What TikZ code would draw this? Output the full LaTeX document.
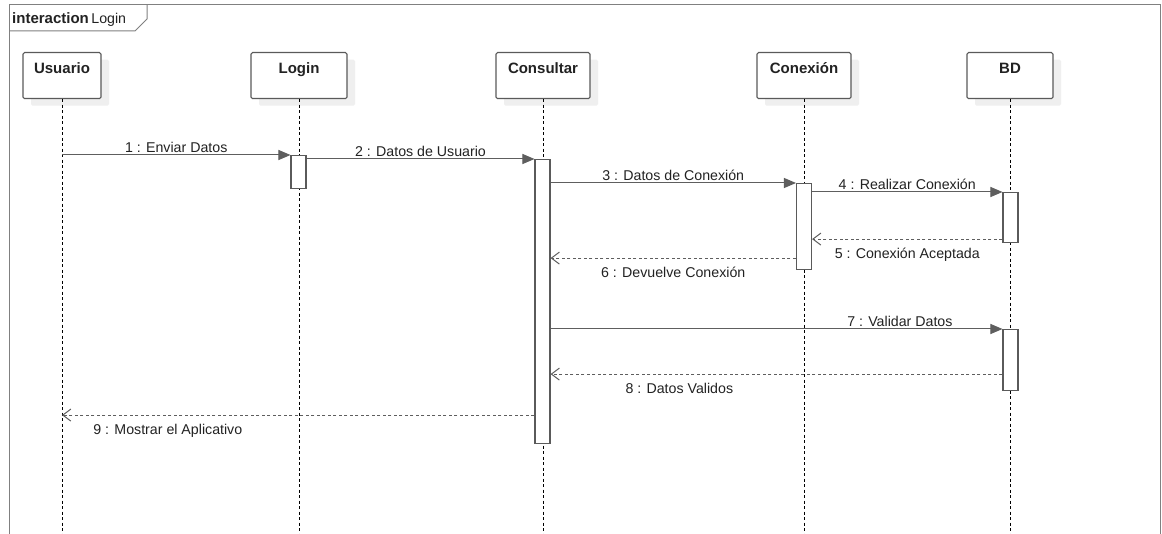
\documentclass[tikz,border=0pt]{standalone}
\usepackage{fontspec}
\setmainfont{Liberation Sans}
\usetikzlibrary{arrows.meta,shadows}

\definecolor{framegray}{HTML}{808080}
\definecolor{boxgray}{HTML}{5A5A5A}
\definecolor{msggray}{HTML}{5E5E5E}
\definecolor{txtgray}{HTML}{222222}
\definecolor{shadowgray}{HTML}{EFEFEF}

\tikzset{
  frame/.style={draw=framegray, line width=1pt},
  head/.style={rectangle, rounded corners=1.5pt, draw=boxgray, line width=1.1pt,
    fill=white, inner xsep=0pt, inner ysep=0pt, text height=21pt, text depth=25pt,
    minimum height=46pt, text=txtgray, font=\fontsize{15}{17}\selectfont\bfseries,
    drop shadow={shadow xshift=8pt, shadow yshift=-7pt, fill=shadowgray, opacity=1}},
  lifeline/.style={draw=black, line width=0.8pt, dash pattern=on 3pt off 2.5pt},
  activation/.style={rectangle, draw=boxgray, line width=1.1pt, fill=white,
    minimum width=15pt, inner sep=0pt, anchor=north},
  call/.style={draw=msggray, line width=1pt, -{Triangle[length=12pt,width=10pt]}},
  reply/.style={draw=msggray, line width=1pt, dash pattern=on 3pt off 2.5pt,
    -{Straight Barb[length=8pt,width=12pt,line width=1pt]}},
  msg/.style={text=txtgray, font=\fontsize{14.2}{16}\selectfont, inner sep=0pt, anchor=base},
}

\begin{document}
\begin{tikzpicture}[x=1pt,y=-1pt]
\useasboundingbox (0,0) rectangle (1162,534);
\fill[white] (0,0) rectangle (1162,534);

% interaction frame and its name tab
\draw[frame] (9,540) -- (9,5) -- (1160,5) -- (1160,540);
\draw[frame] (147,5) -- (147,19) -- (135,31) -- (9,31);
\node[anchor=base west, inner sep=0pt, text=txtgray, font=\fontsize{14.2}{16}\selectfont]
  (title) at (12,24) {\fontsize{15}{17}\selectfont\textbf{interaction}\hspace{2.5pt}\fontsize{14.2}{16}\selectfont Login};

% lifeline heads
\node[head, minimum width=78pt, anchor=north] (usuario)   at (62,52)   {Usuario};
\node[head, minimum width=96pt, anchor=north] (login)     at (299,52)  {Login};
\node[head, minimum width=94pt, anchor=north] (consultar) at (543,52)  {Consultar};
\node[head, minimum width=94pt, anchor=north] (conexion)  at (804,52)  {Conexión};
\node[head, minimum width=86pt, anchor=north] (bd)        at (1010,52) {BD};

% dashed lifelines
\coordinate (bottom) at (0,540);
\foreach \h in {usuario,login,consultar,conexion,bd}
  \draw[lifeline] (\h.south) -- (\h.south |- bottom);

% activation bars
\node[activation, minimum height=33pt]  (aLogin) at (298.5,155) {};
\node[activation, minimum height=284pt] (aCons)  at (542.5,159) {};
\node[activation, minimum height=86pt]  (aConex) at (804,183)   {};
\node[activation, minimum height=50pt]  (aBD1)   at (1010.5,192) {};
\node[activation, minimum height=61pt]  (aBD2)   at (1010.5,329) {};

% messages
\draw[call] (usuario |- aLogin.north west) -- (aLogin.north west)
  node[msg, pos=0.5, yshift=2pt] {1 : Enviar Datos};
\draw[call] (aLogin.east |- aCons.north west) -- (aCons.north west)
  node[msg, pos=0.5, yshift=2pt] {2 : Datos de Usuario};
\draw[call] (aCons.east |- aConex.north west) -- (aConex.north west)
  node[msg, pos=0.5, yshift=2pt] {3 : Datos de Conexión};
\draw[call] (aConex.east |- aBD1.north west) -- (aBD1.north west)
  node[msg, pos=0.5, yshift=2pt] {4 : Realizar Conexión};
\draw[reply] ([yshift=4pt]aBD1.south west) -- ([yshift=4pt]aBD1.south west -| aConex.east)
  node[msg, pos=0.5, yshift=-19pt] {5 : Conexión Aceptada};
\draw[reply] ([yshift=12pt]aConex.south west) -- ([yshift=12pt]aConex.south west -| aCons.east)
  node[msg, pos=0.5, yshift=-19pt] {6 : Devuelve Conexión};
\draw[call] (aCons.east |- aBD2.north west) -- (aBD2.north west)
  node[msg, pos=0.773, yshift=2pt] {7 : Validar Datos};
\draw[reply] ([yshift=17pt]aBD2.south west) -- ([yshift=17pt]aBD2.south west -| aCons.east)
  node[msg, pos=0.715, yshift=-19pt] {8 : Datos Validos};
\draw[reply] ([yshift=29pt]aCons.south west) -- ([yshift=29pt]aCons.south west -| usuario)
  node[msg, pos=0.776, yshift=-19pt] {9 : Mostrar el Aplicativo};
\end{tikzpicture}
\end{document}
